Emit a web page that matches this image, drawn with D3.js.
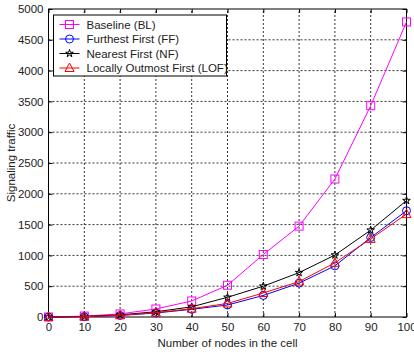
<!DOCTYPE html>
<html>
<head>
<meta charset="utf-8">
<script src="https://cdn.jsdelivr.net/npm/d3@7"></script>
<style>
  body { margin: 0; background: #fff; }
  svg text { font-family: "Liberation Sans", Arial, sans-serif; }
</style>
</head>
<body>
<div id="chart"></div>
<script>
const W = 414, H = 354
const MARGIN = {top: 9, bot: 37, left: 48.5, right: 7.5}

// data
const nodes = [0, 10, 20, 30, 40, 50, 60, 70, 80, 90, 100]
const baseline = [0, 15, 50, 130, 260, 515, 1015, 1475, 2240, 3430, 4790]
const furthest = [0, 5, 25, 65, 125, 195, 350, 550, 830, 1290, 1725]
const nearest = [0, 8, 35, 85, 165, 320, 500, 720, 1005, 1410, 1890]
const outmost = [0, 6, 28, 70, 135, 220, 390, 575, 880, 1268, 1670]
const xTicks = [0, 10, 20, 30, 40, 50, 60, 70, 80, 90, 100]
const yTicks = [0, 500, 1000, 1500, 2000, 2500, 3000, 3500, 4000, 4500, 5000]

const series = [
    {name: "Baseline (BL)", values: baseline, color: "#ff00ff", marker: "square"},
    {name: "Furthest First (FF)", values: furthest, color: "#0000ff", marker: "circle"},
    {name: "Nearest First (NF)", values: nearest, color: "#000000", marker: "star"},
    {name: "Locally Outmost First (LOF)", values: outmost, color: "#ff0000", marker: "triangle"}
]

const svg = d3.select("#chart").append("svg")
    .attr("width", W)
    .attr("height", H)

const x = d3.scaleLinear().domain([0, 100]).range([MARGIN.left, W - MARGIN.right])
const y = d3.scaleLinear().domain([0, 5000]).range([H - MARGIN.bot, MARGIN.top])

// grid
svg.append("g").selectAll("line").data(xTicks.slice(1, -1)).join("line")
    .attr("x1", d => x(d)).attr("x2", d => x(d))
    .attr("y1", y(0)).attr("y2", y(5000))
    .attr("stroke", "#000").attr("stroke-dasharray", "2,2").attr("stroke-width", 0.8)
svg.append("g").selectAll("line").data(yTicks.slice(1, -1)).join("line")
    .attr("y1", d => y(d)).attr("y2", d => y(d))
    .attr("x1", x(0)).attr("x2", x(100))
    .attr("stroke", "#000").attr("stroke-dasharray", "2,2").attr("stroke-width", 0.8)

// axes, MATLAB style: ticks inward on all four sides
const xAxis = d3.axisBottom(x).tickValues(xTicks).tickSize(-4).tickPadding(6).tickFormat(d3.format("d"))
const yAxis = d3.axisLeft(y).tickValues(yTicks).tickSize(-4).tickPadding(5).tickFormat(d3.format("d"))

svg.append("g")
    .attr("transform", `translate(0, ${y(0)})`)
    .call(xAxis)
    .call(g => g.select(".domain").remove())
    .selectAll("text").attr("font-size", 11.5).attr("fill", "#222")

svg.append("g")
    .attr("transform", `translate(${x(0)}, 0)`)
    .call(yAxis)
    .call(g => g.select(".domain").remove())
    .selectAll("text").attr("font-size", 11.5).attr("fill", "#222")

svg.append("g")
    .attr("transform", `translate(0, ${y(5000)})`)
    .call(d3.axisTop(x).tickValues(xTicks).tickSize(-4).tickFormat(""))
    .call(g => g.select(".domain").remove())

svg.append("g")
    .attr("transform", `translate(${x(100)}, 0)`)
    .call(d3.axisRight(y).tickValues(yTicks).tickSize(-4).tickFormat(""))
    .call(g => g.select(".domain").remove())

svg.append("rect")
    .attr("x", x(0)).attr("y", y(5000))
    .attr("width", x(100) - x(0)).attr("height", y(0) - y(5000))
    .attr("fill", "none").attr("stroke", "#000").attr("stroke-width", 1)

// markers
function drawMarker(g, type, color) {
    if (type === "square") {
        g.append("rect").attr("x", -4).attr("y", -4).attr("width", 8).attr("height", 8)
            .attr("fill", "none").attr("stroke", color)
    } else if (type === "circle") {
        g.append("circle").attr("r", 4).attr("fill", "none").attr("stroke", color)
    } else if (type === "star") {
        g.append("path").attr("d", d3.symbol(d3.symbolStar, 18)())
            .attr("fill", "none").attr("stroke", color)
    } else {
        g.append("path").attr("d", "M0,-5L4.5,3.5L-4.5,3.5Z")
            .attr("fill", "none").attr("stroke", color)
    }
}

const line = d3.line()
    .x((d, i) => x(nodes[i]))
    .y(d => y(d))

series.forEach(s => {
    svg.append("path")
        .attr("d", line(s.values))
        .attr("fill", "none")
        .attr("stroke", s.color)
        .attr("stroke-width", 1)
    s.values.forEach((v, i) => {
        const g = svg.append("g").attr("transform", `translate(${x(nodes[i])}, ${y(v)})`)
        drawMarker(g, s.marker, s.color)
    })
})

// legend
const legend = svg.append("g").attr("transform", "translate(53.5, 15)")
legend.append("rect")
    .attr("width", 173).attr("height", 61)
    .attr("fill", "#fff").attr("stroke", "#000")
series.forEach((s, i) => {
    const row = legend.append("g").attr("transform", `translate(0, ${9.5 + i * 14.5})`)
    row.append("line").attr("x1", 6).attr("x2", 26).attr("stroke", s.color)
    drawMarker(row.append("g").attr("transform", "translate(16, 0)"), s.marker, s.color)
    row.append("text").attr("x", 33).attr("y", 4).attr("font-size", 11.5)
        .attr("fill", "#222").text(s.name)
})

// axis titles
svg.append("text")
    .attr("x", (x(0) + x(100)) / 2).attr("y", 347)
    .attr("text-anchor", "middle").attr("font-size", 11.5).attr("fill", "#222")
    .text("Number of nodes in the cell")

svg.append("text")
    .attr("transform", `translate(15, ${(y(0) + y(5000)) / 2}) rotate(-90)`)
    .attr("text-anchor", "middle").attr("font-size", 11.5).attr("fill", "#222")
    .text("Signaling traffic")
</script>
</body>
</html>
